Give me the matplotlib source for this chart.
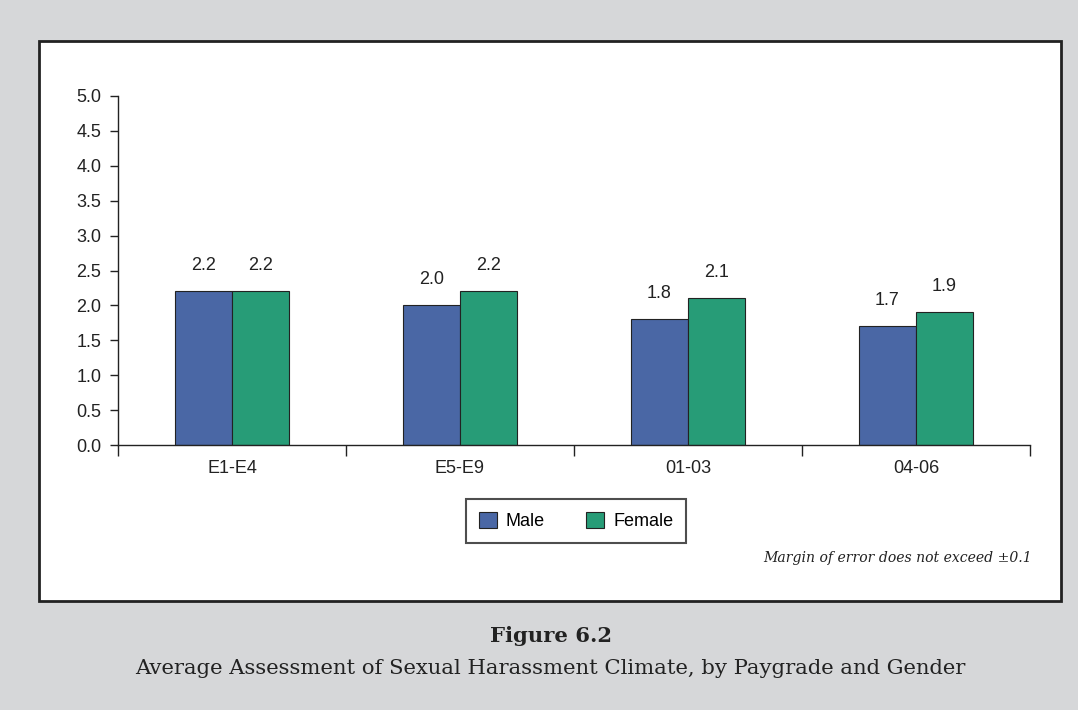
import matplotlib.pyplot as plt
import matplotlib.patches as patches
import numpy as np

categories = ['E1-E4', 'E5-E9', '01-03', '04-06']
male = [2.2, 2.0, 1.8, 1.7]
female = [2.2, 2.2, 2.1, 1.9]

W, H = 1078, 710
fig = plt.figure(figsize=(W / 100, H / 100), dpi=100)
fig.patch.set_facecolor('#d6d7d9')

# white panel with black frame
panel = patches.Rectangle((39 / W, 1 - 601 / H), (1061 - 39) / W, (601 - 41) / H,
                          transform=fig.transFigure, facecolor='white',
                          edgecolor='#222222', linewidth=2, zorder=-1)
fig.add_artist(panel)

ax = fig.add_axes([118 / W, 1 - 445 / H, (1030 - 118) / W, (445 - 96) / H])
ax.set_facecolor('none')

x = np.arange(len(categories))
bw = 0.25
b1 = ax.bar(x - bw / 2, male, bw, color='#4a67a5', edgecolor='#222222', linewidth=0.8, label='Male')
b2 = ax.bar(x + bw / 2, female, bw, color='#279c77', edgecolor='#222222', linewidth=0.8, label='Female')

for bars, vals in ((b1, male), (b2, female)):
    for b, v in zip(bars, vals):
        ax.text(b.get_x() + b.get_width() / 2, v + 0.25, f'{v:.1f}', ha='center', va='bottom',
                fontsize=13, family='Liberation Sans', color='#222222')

ax.set_xlim(-0.5, len(categories) - 0.5)
ax.set_ylim(0, 5)
ax.set_yticks(np.arange(0, 5.01, 0.5))
ax.set_yticklabels([f'{v:.1f}' for v in np.arange(0, 5.01, 0.5)], family='Liberation Sans', fontsize=13)
ax.set_xticks(x)
ax.set_xticklabels(categories, family='Liberation Sans', fontsize=13)
ax.tick_params(axis='x', length=0, pad=11, colors='#222222')
ax.tick_params(axis='y', length=6, width=1, colors='#222222', pad=6)
ax.set_xticks(np.arange(-0.5, len(categories), 1), minor=True)
ax.tick_params(axis='x', which='minor', length=8, width=1, direction='out', colors='#222222')

for s in ('top', 'right'):
    ax.spines[s].set_visible(False)
for s in ('left', 'bottom'):
    ax.spines[s].set_color('#222222')
    ax.spines[s].set_linewidth(1)

leg = ax.legend(loc='center', bbox_to_anchor=((576 - 118) / (1030 - 118), -(521 - 445) / (445 - 96)),
                ncol=2, frameon=True, fancybox=False, edgecolor='#222222',
                prop={'family': 'Liberation Sans', 'size': 13}, handlelength=1.0, handleheight=1.0,
                handletextpad=0.5, columnspacing=2.3, borderpad=0.7)
leg.get_frame().set_linewidth(1.5)

fig.text(1032 / W, 1 - 558 / H, 'Margin of error does not exceed ±0.1', ha='right', va='center',
         fontsize=10.1, family='DejaVu Serif', style='italic', color='#222222')

fig.text(0.5 * (136 + 965) / W, 1 - 636 / H, 'Figure 6.2', ha='center', va='center',
         fontsize=15.2, family='DejaVu Serif', weight='bold', color='#222222')
fig.text(0.5 * (136 + 965) / W, 1 - 668 / H,
         'Average Assessment of Sexual Harassment Climate, by Paygrade and Gender',
         ha='center', va='center', fontsize=15.2, family='DejaVu Serif', color='#222222')

fig.savefig('out.png', dpi=100, facecolor=fig.get_facecolor())
